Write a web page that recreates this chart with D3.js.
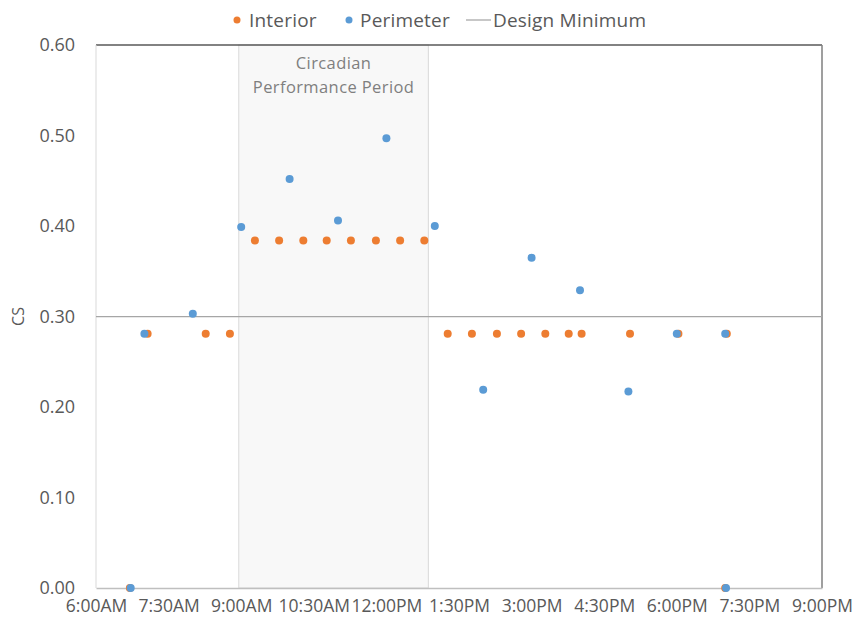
<!DOCTYPE html>
<html>
<head>
<meta charset="utf-8">
<script src="https://cdn.jsdelivr.net/npm/d3@7"></script>
<style>
  html, body { margin: 0; padding: 0; background: #fff; }
  svg { display: block; font-family: "Open Sans", "Noto Sans", sans-serif; }
</style>
</head>
<body>
<svg id="chart" width="853" height="626"></svg>
<script>
// Circadian stimulus (CS) readings over the day
const interiorTimes = ["6:42", "7:04", "8:16", "8:46", "9:17", "9:47", "10:17", "10:46", "11:16", "11:47", "12:17", "12:47",
  "13:16", "13:46", "14:17", "14:47", "15:17", "15:46", "16:02", "17:02", "18:02", "19:02", "19:00"];
const interiorValues = [0.000, 0.281, 0.281, 0.281, 0.384, 0.384, 0.384, 0.384, 0.384, 0.384, 0.384, 0.384,
  0.281, 0.281, 0.281, 0.281, 0.281, 0.281, 0.281, 0.281, 0.281, 0.281, 0.000];

const perimeterTimes = ["6:43", "7:00", "8:00", "9:00", "10:00", "11:00", "12:00", "13:00", "14:00", "15:00", "16:00", "17:00", "18:00", "19:00", "19:01"];
const perimeterValues = [0.000, 0.281, 0.303, 0.399, 0.452, 0.406, 0.497, 0.400, 0.219, 0.365, 0.329, 0.217, 0.281, 0.281, 0.000];

const designMinimum = 0.30;
const periodStart = "8:57";
const periodEnd = "12:52";
const periodLabel = ["Circadian", "Performance Period"];

const xTickTimes = ["6:00", "7:30", "9:00", "10:30", "12:00", "13:30", "15:00", "16:30", "18:00", "19:30", "21:00"];
const xTickLabels = ["6:00AM", "7:30AM", "9:00AM", "10:30AM", "12:00PM", "1:30PM", "3:00PM", "4:30PM", "6:00PM", "7:30PM", "9:00PM"];
const yTicks = [0, 0.1, 0.2, 0.3, 0.4, 0.5, 0.6];
const yLabel = "CS";

const legendItems = ["Interior", "Perimeter", "Design Minimum"];

const toHours = s => { const [h, m] = s.split(":").map(Number); return h + m / 60; };

const colors = { interior: "#ED7D31", perimeter: "#5B9BD5", text: "#595959" };

const svg = d3.select("#chart");
const plot = { left: 96, right: 822, top: 45, bottom: 588 };

const x = d3.scaleLinear().domain([6, 21]).range([plot.left, plot.right]);
const y = d3.scaleLinear().domain([0, 0.6]).range([plot.bottom, plot.top]);

// shaded performance period
const px0 = x(toHours(periodStart)), px1 = x(toHours(periodEnd));
svg.append("rect")
  .attr("x", px0).attr("y", plot.top)
  .attr("width", px1 - px0).attr("height", plot.bottom - plot.top)
  .attr("fill", "#f8f8f8").attr("stroke", "#d9d9d9").attr("stroke-width", 1);

svg.append("g").selectAll("text").data(periodLabel).join("text")
  .attr("x", (px0 + px1) / 2)
  .attr("y", (d, i) => 69 + i * 24)
  .attr("text-anchor", "middle")
  .attr("font-size", 16.5)
  .attr("letter-spacing", 0.4)
  .attr("fill", "#7f7f7f")
  .text(d => d);

// frame: light left/bottom, dark top/right
svg.append("line").attr("x1", plot.left).attr("x2", plot.right).attr("y1", plot.top).attr("y2", plot.top)
  .attr("stroke", "#595959").attr("stroke-width", 1.5);
svg.append("line").attr("x1", plot.right).attr("x2", plot.right).attr("y1", plot.top).attr("y2", plot.bottom)
  .attr("stroke", "#7f7f7f").attr("stroke-width", 1.5);
svg.append("line").attr("x1", plot.left).attr("x2", plot.left).attr("y1", plot.top).attr("y2", plot.bottom)
  .attr("stroke", "#d9d9d9").attr("stroke-width", 1);

// axes
const yAxis = svg.append("g").attr("transform", `translate(${plot.left},0)`)
  .call(d3.axisLeft(y).tickValues(yTicks).tickFormat(d3.format(".2f")).tickSize(0).tickPadding(21));
yAxis.select(".domain").remove();
yAxis.selectAll("text").attr("font-size", 18).attr("fill", colors.text).attr("font-family", "Open Sans");

const xAxis = svg.append("g").attr("transform", `translate(0,${plot.bottom})`)
  .call(d3.axisBottom(x).tickValues(xTickTimes.map(toHours)).tickFormat((d, i) => xTickLabels[i]).tickSize(0).tickPadding(12));
xAxis.select(".domain").attr("stroke", "#bfbfbf").attr("stroke-width", 1.5);
xAxis.selectAll("text").attr("font-size", 17.5).attr("fill", colors.text).attr("font-family", "Open Sans");

svg.append("text")
  .attr("transform", `translate(24,${(plot.top + plot.bottom) / 2}) rotate(-90)`)
  .attr("text-anchor", "middle")
  .attr("font-size", 16).attr("fill", colors.text)
  .text(yLabel);

// design minimum line
svg.append("line")
  .attr("x1", plot.left).attr("x2", plot.right)
  .attr("y1", y(designMinimum)).attr("y2", y(designMinimum))
  .attr("stroke", "#a6a6a6").attr("stroke-width", 1.25);

// points
svg.append("g").selectAll("circle").data(interiorTimes.map((t, i) => [toHours(t), interiorValues[i]])).join("circle")
  .attr("cx", d => x(d[0])).attr("cy", d => y(d[1])).attr("r", 4)
  .attr("fill", colors.interior);
svg.append("g").selectAll("circle").data(perimeterTimes.map((t, i) => [toHours(t), perimeterValues[i]])).join("circle")
  .attr("cx", d => x(d[0])).attr("cy", d => y(d[1])).attr("r", 4)
  .attr("fill", colors.perimeter);

// legend
const lg = svg.append("g").attr("font-size", 19).attr("fill", colors.text).attr("letter-spacing", 0.2);
lg.append("circle").attr("cx", 237).attr("cy", 20).attr("r", 3.5).attr("fill", colors.interior);
lg.append("text").attr("x", 249).attr("y", 27).text(legendItems[0]);
lg.append("circle").attr("cx", 349).attr("cy", 20).attr("r", 3.5).attr("fill", colors.perimeter);
lg.append("text").attr("x", 360).attr("y", 27).text(legendItems[1]);
lg.append("line").attr("x1", 466).attr("x2", 491).attr("y1", 20).attr("y2", 20).attr("stroke", "#a6a6a6").attr("stroke-width", 1.25);
lg.append("text").attr("x", 493).attr("y", 27).text(legendItems[2]);
</script>
</body>
</html>
